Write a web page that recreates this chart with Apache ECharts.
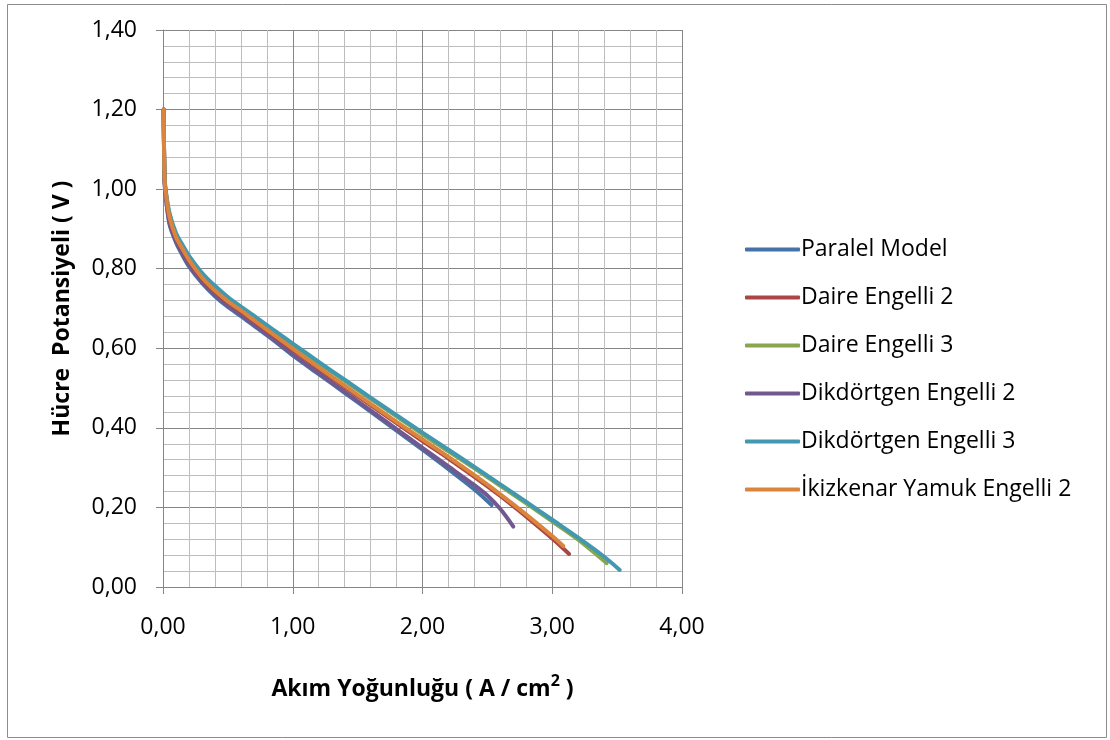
<!DOCTYPE html>
<html>
<head>
<meta charset="utf-8">
<script src="https://cdn.jsdelivr.net/npm/echarts@6/dist/echarts.min.js"></script>
<style>
html,body{margin:0;padding:0;background:#fff;}
#c{width:1110px;height:740px;}
</style>
</head>
<body>
<div id="c"></div>
<script>
var seriesNames = ['Paralel Model','Daire Engelli 2','Daire Engelli 3','Dikdörtgen Engelli 2','Dikdörtgen Engelli 3','İkizkenar Yamuk Engelli 2'];
var seriesColors = ['#4572A7','#AA4643','#89A54E','#71588F','#4198AF','#DB843D'];

// current density (A/cm2) and cell potential (V)
var paralelX = [0.005,0.008,0.012,0.02,0.05,0.1,0.15,0.2,0.3,0.4,0.5,0.6,0.7,0.8,0.9,1.0,1.2,1.4,1.6,1.8,2.0,2.2,2.4,2.533];
var paralelY = [1.20,1.10,1.02,0.985,0.912,0.866,0.834,0.806,0.764,0.731,0.704,0.681,0.657,0.633,0.608,0.582,0.535,0.488,0.441,0.393,0.345,0.296,0.245,0.206];

var daire2X = [0.005,0.008,0.012,0.02,0.05,0.1,0.15,0.2,0.3,0.4,0.5,0.6,0.7,0.8,0.9,1.0,1.2,1.4,1.6,1.8,2.0,2.2,2.4,2.6,2.8,3.0,3.13];
var daire2Y = [1.20,1.10,1.025,0.992,0.926,0.877,0.847,0.819,0.775,0.742,0.715,0.692,0.668,0.644,0.620,0.596,0.549,0.503,0.457,0.412,0.367,0.323,0.277,0.229,0.177,0.122,0.083];

var daire3X = [0.005,0.008,0.012,0.02,0.05,0.1,0.15,0.2,0.3,0.4,0.5,0.6,0.7,0.8,0.9,1.0,1.2,1.4,1.6,1.8,2.0,2.2,2.4,2.6,2.8,3.0,3.2,3.42];
var daire3Y = [1.20,1.10,1.03,0.997,0.936,0.886,0.856,0.829,0.786,0.753,0.725,0.701,0.679,0.655,0.632,0.609,0.563,0.518,0.473,0.429,0.384,0.341,0.298,0.254,0.210,0.165,0.119,0.060];

var dik2X = [0.005,0.008,0.012,0.02,0.05,0.1,0.15,0.2,0.3,0.4,0.5,0.6,0.7,0.8,0.9,1.0,1.2,1.4,1.6,1.8,2.0,2.2,2.4,2.5,2.6,2.7];
var dik2Y = [1.20,1.10,1.02,0.987,0.915,0.870,0.838,0.810,0.768,0.735,0.708,0.685,0.660,0.636,0.611,0.585,0.538,0.491,0.444,0.397,0.350,0.303,0.256,0.230,0.196,0.152];

var dik3X = [0.005,0.008,0.012,0.02,0.05,0.1,0.15,0.2,0.3,0.4,0.5,0.6,0.7,0.8,0.9,1.0,1.2,1.4,1.6,1.8,2.0,2.2,2.4,2.6,2.8,3.0,3.2,3.4,3.52];
var dik3Y = [1.20,1.10,1.035,1.0,0.94,0.89,0.86,0.833,0.79,0.757,0.729,0.705,0.682,0.658,0.635,0.612,0.566,0.521,0.476,0.432,0.388,0.345,0.302,0.258,0.214,0.169,0.124,0.076,0.043];

var ikizX = [0.005,0.008,0.012,0.02,0.05,0.1,0.15,0.2,0.3,0.4,0.5,0.6,0.7,0.8,0.9,1.0,1.2,1.4,1.6,1.8,2.0,2.2,2.4,2.6,2.8,3.0,3.085];
var ikizY = [1.20,1.10,1.03,0.995,0.93,0.88,0.85,0.822,0.778,0.745,0.718,0.695,0.671,0.647,0.623,0.599,0.552,0.506,0.460,0.415,0.371,0.327,0.281,0.233,0.182,0.128,0.103];

var xTicks = ['0,00','1,00','2,00','3,00','4,00'];
var yTicks = ['0,00','0,20','0,40','0,60','0,80','1,00','1,20','1,40'];

function pairs(xs, ys){ var out=[]; for (var i=0;i<xs.length;i++) out.push([xs[i], ys[i]]); return out; }
var allData = [pairs(paralelX,paralelY), pairs(daire2X,daire2Y), pairs(daire3X,daire3Y), pairs(dik2X,dik2Y), pairs(dik3X,dik3Y), pairs(ikizX,ikizY)];
var drawOrder = [0,3,2,1,4,5];

var FONT = 'Open Sans';
var FS = 23;
var chart = echarts.init(document.getElementById('c'), null, {renderer:'canvas'});

var series = drawOrder.map(function(i, k){
  return {
    name: seriesNames[i],
    type: 'line',
    data: allData[i],
    smooth: 0.3,
    showSymbol: false,
    symbol: 'none',
    lineStyle: {width: 4, color: seriesColors[i], cap: 'round', join: 'round'},
    itemStyle: {color: seriesColors[i]},
    z: 3 + k,
    animation: false
  };
});

var option = {
  animation: false,
  backgroundColor: '#ffffff',
  color: seriesColors,
  grid: {left: 163, top: 30, width: 519, height: 557, containLabel: false},
  legend: {
    orient: 'vertical',
    left: 745,
    top: 238,
    padding: 0,
    itemGap: 25,
    itemWidth: 55,
    itemHeight: 4,
    icon: 'roundRect',
    data: seriesNames.map(function(n,i){ return {name:n, itemStyle:{color:seriesColors[i]}}; }),
    textStyle: {fontFamily: FONT, fontSize: FS, color: '#000', padding:[0,0,0,-4]},
    selectedMode: false
  },
  xAxis: {
    type: 'value', min: 0, max: 4, interval: 1,
    axisLine: {show: true, lineStyle: {color: '#868686', width: 1}},
    axisTick: {show: true, length: 7, lineStyle: {color: '#868686'}},
    axisLabel: {margin: 29, fontFamily: FONT, fontSize: FS, color: '#000',
      formatter: function(v){ return xTicks[Math.round(v)]; }},
    splitLine: {show: true, lineStyle: {color: '#868686', width: 1}},
    minorTick: {show: false, splitNumber: 5},
    minorSplitLine: {show: true, lineStyle: {color: '#bdbdbd', width: 1}},
    name: '{a|Akım Yoğunluğu ( A / cm}{s|2}{a| )}',
    nameLocation: 'middle',
    nameGap: 86,
    nameTextStyle: {
      rich: {
        a: {fontFamily: FONT, fontSize: FS, fontWeight: 'bold', color: '#000', lineHeight: 28, verticalAlign:'bottom'},
        s: {fontFamily: FONT, fontSize: 16, fontWeight: 'bold', color: '#000', lineHeight: 18, verticalAlign:'top'}
      }
    }
  },
  yAxis: {
    type: 'value', min: 0, max: 1.4, interval: 0.2,
    axisLine: {show: true, lineStyle: {color: '#868686', width: 1}},
    axisTick: {show: true, length: 7, lineStyle: {color: '#868686'}},
    axisLabel: {margin: 26, fontFamily: FONT, fontSize: FS, color: '#000',
      formatter: function(v){ return yTicks[Math.round(v/0.2)]; }},
    splitLine: {show: true, lineStyle: {color: '#868686', width: 1}},
    minorTick: {show: false, splitNumber: 5},
    minorSplitLine: {show: true, lineStyle: {color: '#bdbdbd', width: 1}},
    name: 'Hücre  Potansiyeli ( V )',
    nameLocation: 'middle',
    nameGap: 89,
    nameTextStyle: {fontFamily: FONT, fontSize: FS, fontWeight: 'bold', color: '#000'}
  },
  graphic: [{
    type: 'rect', left: 5, top: 2, silent: true,
    shape: {width: 1099, height: 733},
    style: {fill: 'none', stroke: '#8c8c8c', lineWidth: 1}
  }],
  series: series
};
chart.setOption(option);
</script>
</body>
</html>
